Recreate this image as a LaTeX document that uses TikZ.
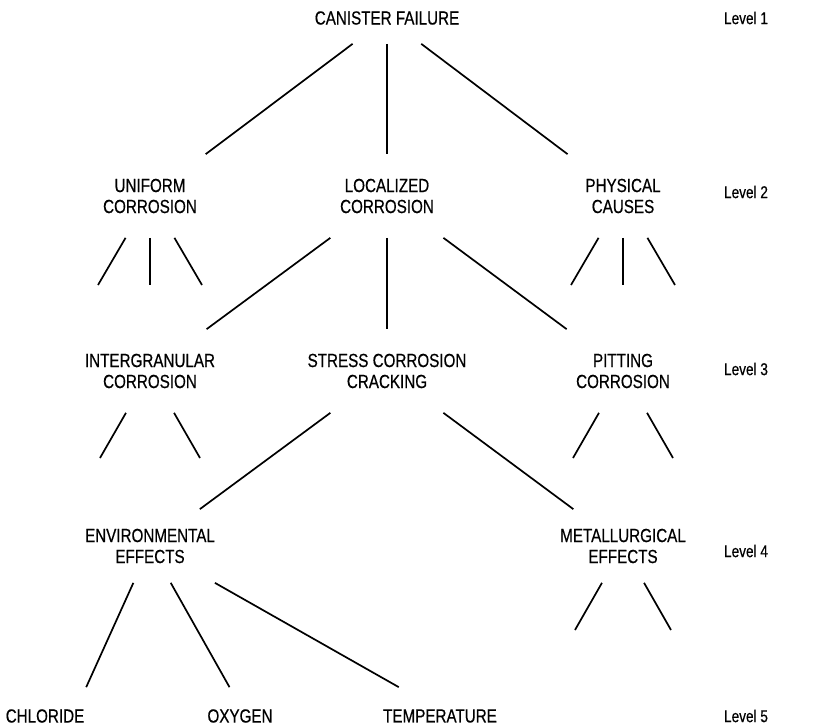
\documentclass[tikz,border=0pt]{standalone}
\usepackage{fontspec}
\setmainfont{Liberation Sans}[FakeStretch=0.8,FakeBold=0.5]
\begin{document}
\begin{tikzpicture}[x=1pt,y=-1pt,line width=1.7pt,
	every node/.style={font=\fontsize{19}{21}\selectfont,inner sep=0pt,align=center},
	rootbox/.style={minimum width=130pt,minimum height=50pt},
	causebox/.style={minimum width=130pt,minimum height=82pt},
	effectbox/.style={minimum width=130pt,minimum height=72pt},
	leafbox/.style={minimum width=110pt,minimum height=56pt},
	levellabel/.style={font=\fontsize{17}{20}\selectfont}]
		\useasboundingbox (0,0) rectangle (814,726);
		
		\node[rootbox] (failure) at (387,18){CANISTER FAILURE};
		\node[levellabel] (lvl1) at (746,18){Level 1};
		
		\node[causebox] (uniform) at (150,196){UNIFORM\\CORROSION};
		\node[causebox] (localized) at (387,196){LOCALIZED\\CORROSION};
		\node[causebox] (physical) at (623,196){PHYSICAL\\CAUSES};
		\node[levellabel] (lvl2) at (746,192){Level 2};
		
		\node[causebox] (intergranular) at (150,371){INTERGRANULAR\\CORROSION};
		\node[causebox] (stress) at (387,371){STRESS CORROSION\\CRACKING};
		\node[causebox] (pitting) at (623,371){PITTING\\CORROSION};
		\node[levellabel] (lvl3) at (746,369){Level 3};
		
		\node[effectbox] (environ) at (150,546){ENVIRONMENTAL\\EFFECTS};
		\node[effectbox] (metall) at (623,546){METALLURGICAL\\EFFECTS};
		\node[levellabel] (lvl4) at (746,551){Level 4};
		
		\node[leafbox] (chloride) at (45,716){CHLORIDE};
		\node[leafbox] (oxygen) at (240,716){OXYGEN};
		\node[leafbox] (temperature) at (440,716){TEMPERATURE};
		\node[levellabel] (lvl5) at (746,716){Level 5};
		
		% free ends of the short stubs
		\coordinate (u1) at (98,285);
		\coordinate (u2) at (150,285);
		\coordinate (u3) at (202,285);
		\coordinate (p1) at (571,285);
		\coordinate (p2) at (623,285);
		\coordinate (p3) at (675,285);
		\coordinate (i1) at (100,458);
		\coordinate (i2) at (200,458);
		\coordinate (t1) at (573,458);
		\coordinate (t2) at (673,458);
		\coordinate (m1) at (575,630);
		\coordinate (m2) at (671,630);
		
		\draw (failure) -- (uniform);
		\draw (failure) -- (localized);
		\draw (failure) -- (physical);
		
		\draw (uniform) -- (u1);
		\draw (uniform) -- (u2);
		\draw (uniform) -- (u3);
		\draw (physical) -- (p1);
		\draw (physical) -- (p2);
		\draw (physical) -- (p3);
		
		\draw (localized) -- (intergranular);
		\draw (localized) -- (stress);
		\draw (localized) -- (pitting);
		
		\draw (intergranular) -- (i1);
		\draw (intergranular) -- (i2);
		\draw (pitting) -- (t1);
		\draw (pitting) -- (t2);
		
		\draw (stress) -- (environ);
		\draw (stress) -- (metall);
		
		\draw (metall) -- (m1);
		\draw (metall) -- (m2);
		
		\draw (environ) -- (chloride.35);
		\draw (environ) -- (oxygen.110);
		\draw (environ) -- (temperature.145);
	\end{tikzpicture}
\end{document}
